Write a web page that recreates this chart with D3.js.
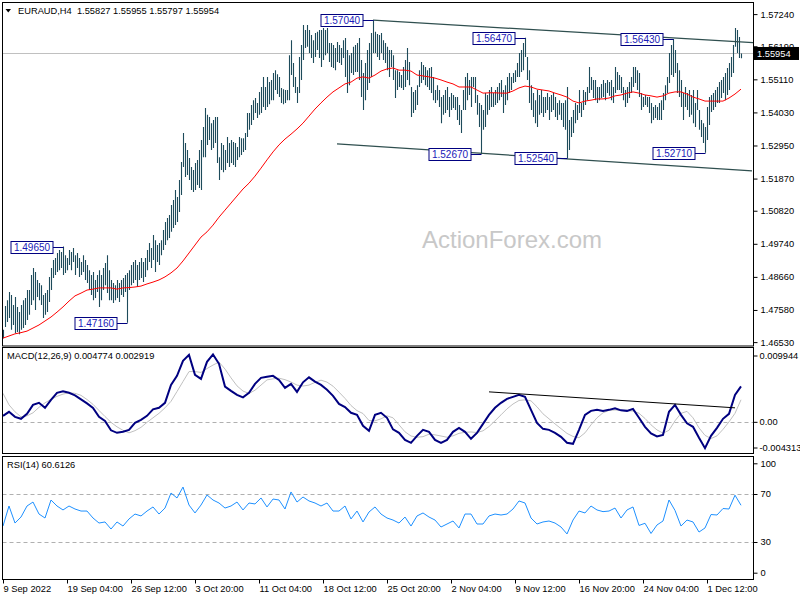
<!DOCTYPE html>
<html><head><meta charset="utf-8">
<script src="https://cdn.jsdelivr.net/npm/d3@7"></script>
<style>
body{margin:0;background:#fff;}
svg{display:block;}
text{font-family:"Liberation Sans",Arial,sans-serif;font-size:9.3px;}
</style></head><body>
<svg id="c" width="800" height="600"></svg>
<script>
// ---------------- DATA ----------------
const symbol = "EURAUD,H4";
const lastOpen = 1.55827, lastClose = 1.55954;
const highs = [
1.4693,1.4771,1.4790,1.4817,1.4807,1.4774,1.4800,1.4768,1.4751,1.4774,
1.4790,1.4797,1.4823,1.4823,1.4872,1.4895,1.4882,1.4856,1.4846,1.4839,
1.4807,1.4813,1.4823,1.4866,1.4895,1.4921,1.4928,1.4944,1.4954,1.4947,
1.4965,1.4937,1.4928,1.4954,1.4947,1.4960,1.4937,1.4944,1.4928,1.4915,
1.4937,1.4921,1.4905,1.4888,1.4872,1.4882,1.4856,1.4872,1.4888,1.4872,
1.4895,1.4911,1.4937,1.4888,1.4856,1.4846,1.4839,1.4856,1.4846,1.4856,
1.4862,1.4872,1.4879,1.4888,1.4905,1.4915,1.4921,1.4905,1.4915,1.4928,
1.4915,1.4928,1.4954,1.4977,1.4960,1.5003,1.4986,1.4970,1.4977,1.4986,
1.5019,1.5045,1.5058,1.5068,1.5101,1.5117,1.5150,1.5127,1.5182,1.5241,
1.5336,1.5303,1.5280,1.5254,1.5225,1.5215,1.5238,1.5248,1.5280,1.5313,
1.5355,1.5417,1.5395,1.5388,1.5368,1.5378,1.5388,1.5388,1.5257,1.5303,
1.5297,1.5280,1.5323,1.5303,1.5313,1.5306,1.5303,1.5290,1.5323,1.5319,
1.5319,1.5336,1.5401,1.5401,1.5427,1.5443,1.5450,1.5434,1.5470,1.5486,
1.5519,1.5486,1.5519,1.5502,1.5509,1.5532,1.5541,1.5528,1.5519,1.5483,
1.5479,1.5476,1.5476,1.5590,1.5639,1.5564,1.5519,1.5486,1.5584,1.5623,
1.5688,1.5672,1.5688,1.5672,1.5656,1.5639,1.5662,1.5666,1.5672,1.5672,
1.5679,1.5672,1.5679,1.5630,1.5630,1.5623,1.5613,1.5633,1.5623,1.5613,
1.5639,1.5646,1.5607,1.5590,1.5597,1.5617,1.5623,1.5630,1.5646,1.5574,
1.5532,1.5564,1.5607,1.5630,1.5662,1.5704,1.5666,1.5659,1.5656,1.5662,
1.5639,1.5630,1.5617,1.5607,1.5607,1.5590,1.5541,1.5541,1.5535,1.5525,
1.5551,1.5574,1.5613,1.5568,1.5486,1.5470,1.5476,1.5492,1.5541,1.5568,
1.5558,1.5551,1.5541,1.5548,1.5551,1.5519,1.5476,1.5492,1.5476,1.5453,
1.5460,1.5476,1.5486,1.5453,1.5466,1.5460,1.5453,1.5453,1.5427,1.5411,
1.5476,1.5519,1.5532,1.5509,1.5519,1.5519,1.5519,1.5460,1.5434,1.5427,
1.5411,1.5466,1.5460,1.5476,1.5486,1.5466,1.5476,1.5486,1.5499,1.5509,
1.5476,1.5492,1.5519,1.5532,1.5519,1.5532,1.5541,1.5564,1.5597,1.5607,
1.5630,1.5647,1.5584,1.5541,1.5492,1.5466,1.5443,1.5476,1.5460,1.5476,
1.5453,1.5453,1.5466,1.5453,1.5460,1.5466,1.5453,1.5434,1.5443,1.5434,
1.5434,1.5443,1.5486,1.5378,1.5388,1.5411,1.5434,1.5427,1.5476,1.5434,
1.5476,1.5470,1.5486,1.5551,1.5519,1.5509,1.5509,1.5486,1.5486,1.5496,
1.5509,1.5499,1.5509,1.5502,1.5509,1.5486,1.5551,1.5535,1.5525,1.5519,
1.5486,1.5476,1.5486,1.5502,1.5519,1.5551,1.5551,1.5541,1.5532,1.5466,
1.5453,1.5460,1.5453,1.5453,1.5434,1.5421,1.5427,1.5421,1.5434,1.5443,
1.5466,1.5492,1.5519,1.5597,1.5623,1.5643,1.5607,1.5564,1.5541,1.5509,
1.5466,1.5486,1.5466,1.5476,1.5460,1.5476,1.5434,1.5476,1.5411,1.5378,
1.5368,1.5355,1.5421,1.5453,1.5460,1.5466,1.5476,1.5486,1.5502,1.5509,
1.5519,1.5532,1.5548,1.5564,1.5584,1.5623,1.5679,1.5672,1.5649,1.55955];
const lows = [
1.4666,1.4702,1.4719,1.4732,1.4693,1.4709,1.4682,1.4686,1.4679,1.4693,
1.4699,1.4709,1.4725,1.4742,1.4774,1.4790,1.4758,1.4800,1.4790,1.4774,
1.4732,1.4742,1.4751,1.4784,1.4823,1.4862,1.4872,1.4882,1.4888,1.4895,
1.4872,1.4879,1.4888,1.4905,1.4888,1.4915,1.4872,1.4895,1.4866,1.4872,
1.4882,1.4856,1.4846,1.4823,1.4807,1.4790,1.4797,1.4817,1.4768,1.4790,
1.4823,1.4839,1.4813,1.4790,1.4790,1.4781,1.4790,1.4797,1.4784,1.4807,
1.4800,1.4817,1.4716,1.4823,1.4839,1.4846,1.4856,1.4833,1.4856,1.4862,
1.4849,1.4866,1.4888,1.4915,1.4895,1.4921,1.4882,1.4915,1.4905,1.4937,
1.4954,1.4970,1.4986,1.4993,1.5013,1.5026,1.5035,1.5045,1.5078,1.5133,
1.5225,1.5192,1.5199,1.5182,1.5150,1.5143,1.5150,1.5166,1.5156,1.5150,
1.5257,1.5257,1.5297,1.5313,1.5280,1.5287,1.5303,1.5238,1.5182,1.5215,
1.5208,1.5215,1.5238,1.5225,1.5238,1.5231,1.5225,1.5248,1.5257,1.5264,
1.5274,1.5280,1.5323,1.5346,1.5362,1.5378,1.5401,1.5385,1.5395,1.5401,
1.5421,1.5411,1.5421,1.5430,1.5443,1.5443,1.5476,1.5463,1.5453,1.5434,
1.5430,1.5434,1.5443,1.5443,1.5525,1.5486,1.5466,1.5434,1.5466,1.5509,
1.5574,1.5613,1.5617,1.5597,1.5581,1.5564,1.5584,1.5607,1.5581,1.5551,
1.5574,1.5590,1.5597,1.5568,1.5551,1.5548,1.5541,1.5568,1.5564,1.5558,
1.5581,1.5519,1.5466,1.5492,1.5532,1.5525,1.5535,1.5535,1.5509,1.5453,
1.5411,1.5443,1.5476,1.5499,1.5519,1.5597,1.5597,1.5584,1.5574,1.5597,
1.5574,1.5564,1.5541,1.5519,1.5551,1.5509,1.5450,1.5476,1.5486,1.5483,
1.5476,1.5486,1.5509,1.5492,1.5388,1.5401,1.5411,1.5427,1.5486,1.5499,
1.5509,1.5492,1.5486,1.5476,1.5466,1.5443,1.5434,1.5443,1.5421,1.5368,
1.5395,1.5401,1.5411,1.5388,1.5411,1.5417,1.5411,1.5378,1.5362,1.5336,
1.5411,1.5411,1.5443,1.5460,1.5421,1.5486,1.5434,1.5395,1.5355,1.5267,
1.5346,1.5355,1.5395,1.5411,1.5421,1.5421,1.5427,1.5434,1.5443,1.5453,
1.5401,1.5427,1.5443,1.5466,1.5476,1.5499,1.5502,1.5519,1.5519,1.5535,
1.5541,1.5584,1.5509,1.5434,1.5411,1.5388,1.5368,1.5355,1.5395,1.5401,
1.5388,1.5401,1.5411,1.5378,1.5404,1.5411,1.5388,1.5378,1.5395,1.5378,
1.5355,1.5346,1.5254,1.5280,1.5323,1.5336,1.5368,1.5378,1.5401,1.5388,
1.5411,1.5427,1.5443,1.5466,1.5476,1.5450,1.5443,1.5434,1.5443,1.5450,
1.5453,1.5443,1.5466,1.5457,1.5443,1.5434,1.5466,1.5476,1.5476,1.5466,
1.5443,1.5421,1.5434,1.5450,1.5466,1.5486,1.5499,1.5476,1.5453,1.5411,
1.5421,1.5427,1.5421,1.5401,1.5368,1.5378,1.5385,1.5378,1.5378,1.5378,
1.5411,1.5443,1.5466,1.5499,1.5525,1.5519,1.5532,1.5466,1.5453,1.5421,
1.5378,1.5421,1.5411,1.5388,1.5395,1.5368,1.5355,1.5411,1.5346,1.5323,
1.5303,1.5271,1.5313,1.5362,1.5404,1.5411,1.5421,1.5434,1.5434,1.5450,
1.5466,1.5443,1.5460,1.5476,1.5519,1.5532,1.5617,1.5597,1.5581,1.55797];
// indicator readings, one every 3 bars (bar 0, 3, 6, ... 369)
const indicatorStep = 3;
const maValues = [
1.4666,1.4673,1.4680,1.4684,1.4689,1.4699,1.4709,1.4722,1.4735,1.4751,
1.4768,1.4787,1.4804,1.4813,1.4823,1.4826,1.4830,1.4830,1.4830,1.4826,
1.4830,1.4831,1.4833,1.4836,1.4843,1.4849,1.4856,1.4866,1.4879,1.4895,
1.4918,1.4944,1.4970,1.4996,1.5013,1.5035,1.5061,1.5084,1.5107,1.5130,
1.5153,1.5172,1.5195,1.5221,1.5248,1.5274,1.5297,1.5316,1.5332,1.5349,
1.5368,1.5391,1.5414,1.5434,1.5453,1.5470,1.5483,1.5496,1.5502,1.5515,
1.5519,1.5515,1.5525,1.5538,1.5545,1.5548,1.5541,1.5541,1.5538,1.5525,
1.5522,1.5519,1.5515,1.5509,1.5502,1.5496,1.5486,1.5486,1.5486,1.5476,
1.5466,1.5467,1.5467,1.5466,1.5466,1.5473,1.5483,1.5489,1.5486,1.5479,
1.5476,1.5473,1.5466,1.5460,1.5453,1.5440,1.5434,1.5440,1.5443,1.5447,
1.5447,1.5450,1.5457,1.5460,1.5466,1.5470,1.5466,1.5460,1.5457,1.5453,
1.5457,1.5466,1.5470,1.5470,1.5463,1.5453,1.5447,1.5440,1.5440,1.5440,
1.5440,1.5450,1.5463,1.5479];
const macdValues = [
0.00069,0.00125,0.00055,0.00028,0.00097,0.00221,0.00249,0.00180,0.00291,0.00388,
0.00408,0.00388,0.00353,0.00298,0.00242,0.00180,0.00055,0.00000,-0.00131,-0.00166,
-0.00152,-0.00125,-0.00028,0.00014,0.00069,0.00159,0.00180,0.00249,0.00498,0.00623,
0.00830,0.00913,0.00637,0.00581,0.00817,0.00920,0.00789,0.00475,0.00415,0.00360,
0.00325,0.00388,0.00512,0.00595,0.00609,0.00623,0.00567,0.00457,0.00512,0.00401,
0.00533,0.00602,0.00544,0.00498,0.00429,0.00346,0.00235,0.00190,0.00111,0.00083,
-0.00069,-0.00138,0.00083,0.00111,0.00042,-0.00118,-0.00166,-0.00263,-0.00304,-0.00208,
-0.00125,-0.00152,-0.00263,-0.00304,-0.00263,-0.00152,-0.00097,-0.00152,-0.00249,-0.00166,
-0.00042,0.00083,0.00180,0.00249,0.00304,0.00332,0.00360,0.00332,0.00152,-0.00028,
-0.00111,-0.00125,-0.00166,-0.00221,-0.00304,-0.00318,-0.00125,0.00083,0.00138,0.00152,
0.00138,0.00152,0.00173,0.00145,0.00138,0.00166,0.00042,-0.00083,-0.00173,-0.00215,
-0.00194,0.00125,0.00221,0.00083,-0.00035,-0.00083,-0.00235,-0.00378,-0.00208,-0.00097,
0.00028,0.00097,0.00360,0.004774];
const signalValues = [
0.00381,0.00221,0.00125,0.00055,0.00069,0.00111,0.00187,0.00249,0.00298,0.00339,
0.00370,0.00388,0.00381,0.00353,0.00295,0.00228,0.00143,0.00060,-0.00021,-0.00083,
-0.00131,-0.00166,-0.00136,-0.00090,-0.00021,0.00042,0.00104,0.00180,0.00270,0.00406,
0.00544,0.00682,0.00682,0.00670,0.00724,0.00772,0.00814,0.00717,0.00595,0.00484,
0.00412,0.00379,0.00424,0.00495,0.00567,0.00581,0.00590,0.00570,0.00537,0.00495,
0.00482,0.00495,0.00533,0.00563,0.00536,0.00480,0.00397,0.00311,0.00212,0.00141,
0.00101,0.00004,0.00000,0.00028,0.00069,0.00042,-0.00055,-0.00152,-0.00210,-0.00227,
-0.00219,-0.00185,-0.00194,-0.00210,-0.00227,-0.00208,-0.00173,-0.00159,-0.00154,-0.00162,
-0.00138,-0.00079,0.00000,0.00083,0.00166,0.00233,0.00282,0.00291,0.00277,0.00194,
0.00097,0.00028,-0.00042,-0.00108,-0.00174,-0.00216,-0.00233,-0.00166,-0.00055,0.00042,
0.00111,0.00145,0.00151,0.00144,0.00138,0.00136,0.00104,0.00033,-0.00055,-0.00126,
-0.00170,-0.00131,0.00000,0.00104,0.00131,0.00042,-0.00097,-0.00201,-0.00245,-0.00208,
-0.00118,-0.00014,0.00104,0.002919];
const rsiValues = [
43.3,60.0,45.8,50.8,60.0,63.3,53.3,50.0,65.0,60.0,
56.7,60.0,57.5,55.8,55.8,50.0,45.8,46.7,40.8,46.7,
43.3,49.2,53.3,51.7,55.8,59.2,53.3,58.3,70.8,66.7,
75.8,60.8,54.2,60.8,69.2,65.0,62.5,58.3,60.0,63.3,
56.7,62.5,61.7,66.7,59.2,65.8,65.0,57.5,71.7,63.3,
67.5,64.2,62.5,60.0,62.5,55.8,55.8,60.0,49.2,55.8,
46.7,55.0,59.2,53.3,50.0,48.3,45.8,50.8,43.3,51.7,
54.2,50.8,48.3,42.5,45.0,47.5,41.7,53.3,53.3,45.0,
45.0,51.7,53.3,52.5,53.3,57.5,64.2,62.5,50.0,45.0,
46.7,47.5,45.8,42.5,36.7,48.3,55.8,54.2,60.0,56.7,
55.3,55.8,58.3,50.0,56.7,59.2,43.8,45.6,37.1,44.2,
47.5,65.0,56.3,43.3,48.3,46.7,38.3,41.7,52.9,52.5,
57.9,57.5,69.0,60.6126];
const timeLabels = ["9 Sep 2022","19 Sep 04:00","26 Sep 12:00","3 Oct 20:00","11 Oct 04:00","18 Oct 12:00",
  "25 Oct 20:00","2 Nov 04:00","9 Nov 12:00","16 Nov 20:00","24 Nov 04:00","1 Dec 12:00"];
const timeLabelBars = [0,32,64,96,128,160,192,224,256,288,320,352];
const priceTicks = [1.57240,1.56190,1.55110,1.54030,1.52950,1.51870,1.50820,1.49740,1.48660,1.47580,1.46530];
const macdTicks = [0.009944,0,-0.004313];
const macdTickText = ["0.009944","0.00","-0.004313"];
const rsiTicks = [100,70,30,0];
const rsiLevels = [70,30];
const annBars = [30,62,185,239,261,282,335,351];
const annValues = [1.4965,1.4716,1.5704,1.5267,1.5647,1.5254,1.5643,1.5271];
const upperTrendBars = [185,375], upperTrendPrices = [1.5704,1.5631];
const lowerTrendBars = [167,374.5], lowerTrendPrices = [1.5300,1.5212];
const macdTrendBars = [243,366], macdTrendValues = [0.00401,0.00180];

// ---------------- DRAW ----------------
const svg = d3.select("#c");
const L = 2.5, R = 753.5;
const P = {main:[2.5,346], macd:[347.5,453.5], rsi:[456.5,579.5]};

const x = d3.scaleLinear().domain([0,375]).range([3,753]);
const yMain = d3.scaleLinear().domain([1.46436,1.57537]).range([345,5]);
const yMacd = d3.scaleLinear().domain([-0.004313,0.009944]).range([452,349]);
const yRsi = d3.scaleLinear().domain([0,100]).range([578,458]);
const px = i => Math.round(x(i)) + 0.5;

const defs = svg.append("defs");
Object.entries(P).forEach(([k,[t,b]]) => {
  defs.append("clipPath").attr("id","clip-"+k).append("rect")
    .attr("x",L).attr("y",t).attr("width",R-L).attr("height",b-t);
});

// watermark
svg.append("text").attr("x",422).attr("y",248).text("ActionForex.com")
  .style("font-family","'Liberation Sans',Arial,sans-serif").style("font-size","24px").attr("fill","#c8c8c8");

// ---- main panel
const gMain = svg.append("g").attr("clip-path","url(#clip-main)");
gMain.append("line").attr("x1",L).attr("x2",R)
  .attr("y1",Math.round(yMain(lastClose))+0.5).attr("y2",Math.round(yMain(lastClose))+0.5)
  .attr("stroke","#c0c0c0");
gMain.append("g").selectAll("line").data(highs).join("line")
  .attr("x1",(d,i)=>px(i)).attr("x2",(d,i)=>px(i))
  .attr("y1",d=>yMain(d)).attr("y2",(d,i)=>yMain(lows[i]))
  .attr("stroke","#1e4b5b").attr("stroke-width",1.1);
gMain.append("path").datum(maValues)
  .attr("d",d3.line().x((d,k)=>x(k*indicatorStep)).y(d=>yMain(d)))
  .attr("fill","none").attr("stroke","#ff0000").attr("stroke-width",1);
[[upperTrendBars,upperTrendPrices],[lowerTrendBars,lowerTrendPrices]].forEach(([b,p])=>{
  gMain.append("line").attr("x1",x(b[0])).attr("x2",x(b[1]))
    .attr("y1",yMain(p[0])).attr("y2",yMain(p[1]))
    .attr("stroke","#2f4f4f").attr("stroke-width",1.2);
});
const ann = gMain.append("g");
annBars.forEach((b,i)=>{
  const bx = px(b), by = Math.round(yMain(annValues[i]))+0.5;
  const bw = 42, bh = 12, right = bx - 10.5;
  ann.append("line").attr("x1",right).attr("x2",bx).attr("y1",by).attr("y2",by)
    .attr("stroke","#000080");
  ann.append("rect").attr("x",right-bw).attr("y",by-bh/2).attr("width",bw).attr("height",bh)
    .attr("fill","#fff").attr("stroke","#000080");
  ann.append("text").attr("x",right-bw/2).attr("y",by+3.5).attr("text-anchor","middle")
    .attr("fill","#1a1ab8").style("font-size","10px").text(d3.format(".5f")(annValues[i]));
});

// ---- MACD panel
const gMacd = svg.append("g").attr("clip-path","url(#clip-macd)");
gMacd.append("line").attr("x1",L).attr("x2",R).attr("y1",Math.round(yMacd(0))+1.5).attr("y2",Math.round(yMacd(0))+1.5)
  .attr("stroke","#b0b0b0").attr("stroke-dasharray","4,3");
gMacd.append("path").datum(signalValues)
  .attr("d",d3.line().x((d,k)=>x(k*indicatorStep)).y(d=>yMacd(d)))
  .attr("fill","none").attr("stroke","#c0c0c0").attr("stroke-width",1);
gMacd.append("path").datum(macdValues)
  .attr("d",d3.line().x((d,k)=>x(k*indicatorStep)).y(d=>yMacd(d)))
  .attr("fill","none").attr("stroke","#000080").attr("stroke-width",2);
gMacd.append("line").attr("x1",x(macdTrendBars[0])).attr("x2",x(macdTrendBars[1]))
  .attr("y1",yMacd(macdTrendValues[0])).attr("y2",yMacd(macdTrendValues[1]))
  .attr("stroke","#000").attr("stroke-width",1);

// ---- RSI panel
const gRsi = svg.append("g").attr("clip-path","url(#clip-rsi)");
rsiLevels.forEach(v=>{
  gRsi.append("line").attr("x1",L).attr("x2",R).attr("y1",Math.round(yRsi(v))+0.5).attr("y2",Math.round(yRsi(v))+0.5)
    .attr("stroke","#b0b0b0").attr("stroke-dasharray","4,3");
});
gRsi.append("path").datum(rsiValues)
  .attr("d",d3.line().x((d,k)=>x(k*indicatorStep)).y(d=>yRsi(d)))
  .attr("fill","none").attr("stroke","#1e90ff").attr("stroke-width",1);

// ---- frames
Object.values(P).forEach(([t,b])=>{
  svg.append("rect").attr("x",L).attr("y",t).attr("width",R-L).attr("height",b-t)
    .attr("fill","none").attr("stroke","#000");
});

// ---- axes
function styleAxis(g){ g.select(".domain").remove(); g.attr("font-family",null).attr("font-size",null); }
svg.append("g").attr("transform",`translate(${R},0)`)
  .call(d3.axisRight(yMain).tickValues(priceTicks).tickFormat(d3.format(".5f")).tickSize(4).tickPadding(3))
  .call(styleAxis);
const gmx = svg.append("g").attr("transform",`translate(${R},0)`)
  .call(d3.axisRight(yMacd).tickValues(macdTicks).tickFormat((d,i)=>macdTickText[i]).tickSize(4).tickPadding(2))
  .call(styleAxis);
gmx.selectAll(".tick").attr("transform",d=>{
  let y = yMacd(d); if(d===macdTicks[0]) y += 6.5; if(d===macdTicks[2]) y -= 4.5; if(d===0) y += 1; return `translate(0,${y+0.5})`;});
const grx = svg.append("g").attr("transform",`translate(${R},0)`)
  .call(d3.axisRight(yRsi).tickValues(rsiTicks).tickFormat(d3.format("d")).tickSize(4).tickPadding(3))
  .call(styleAxis);
grx.selectAll(".tick").attr("transform",d=>{
  let y = yRsi(d); if(d===100) y += 5.3; if(d===0) y -= 5.3; return `translate(0,${y+0.5})`;});
const gx = svg.append("g").attr("transform",`translate(0,${P.rsi[1]})`)
  .call(d3.axisBottom(x).tickValues(timeLabelBars).tickFormat((d,i)=>timeLabels[i]).tickSize(4).tickPadding(2))
  .call(styleAxis);
gx.selectAll("text").attr("text-anchor","start");

// bid price box
const by0 = yMain(lastClose);
svg.append("rect").attr("x",R+0.5).attr("y",by0-6.5).attr("width",45).attr("height",13).attr("fill","#000");
svg.append("text").attr("x",R+3.5).attr("y",by0+3.5).attr("fill","#fff").text(d3.format(".5f")(lastClose));

// ---- headers
svg.append("path").attr("d","M5.5,9 L11,9 L8.25,12.5 Z").attr("fill","#000");
svg.append("text").attr("x",18).attr("y",14).style("white-space","pre")
  .text(`${symbol}  ${d3.format(".5f")(lastOpen)} ${d3.format(".5f")(highs[highs.length-1])} ${d3.format(".5f")(lows[lows.length-1])} ${d3.format(".5f")(lastClose)}`);
svg.append("text").attr("x",7).attr("y",359)
  .text(`MACD(12,26,9) ${d3.format(".6f")(macdValues[macdValues.length-1])} ${d3.format(".6f")(signalValues[signalValues.length-1])}`);
svg.append("text").attr("x",7).attr("y",468)
  .text(`RSI(14) ${d3.format(".4f")(rsiValues[rsiValues.length-1])}`);
</script>
</body></html>
